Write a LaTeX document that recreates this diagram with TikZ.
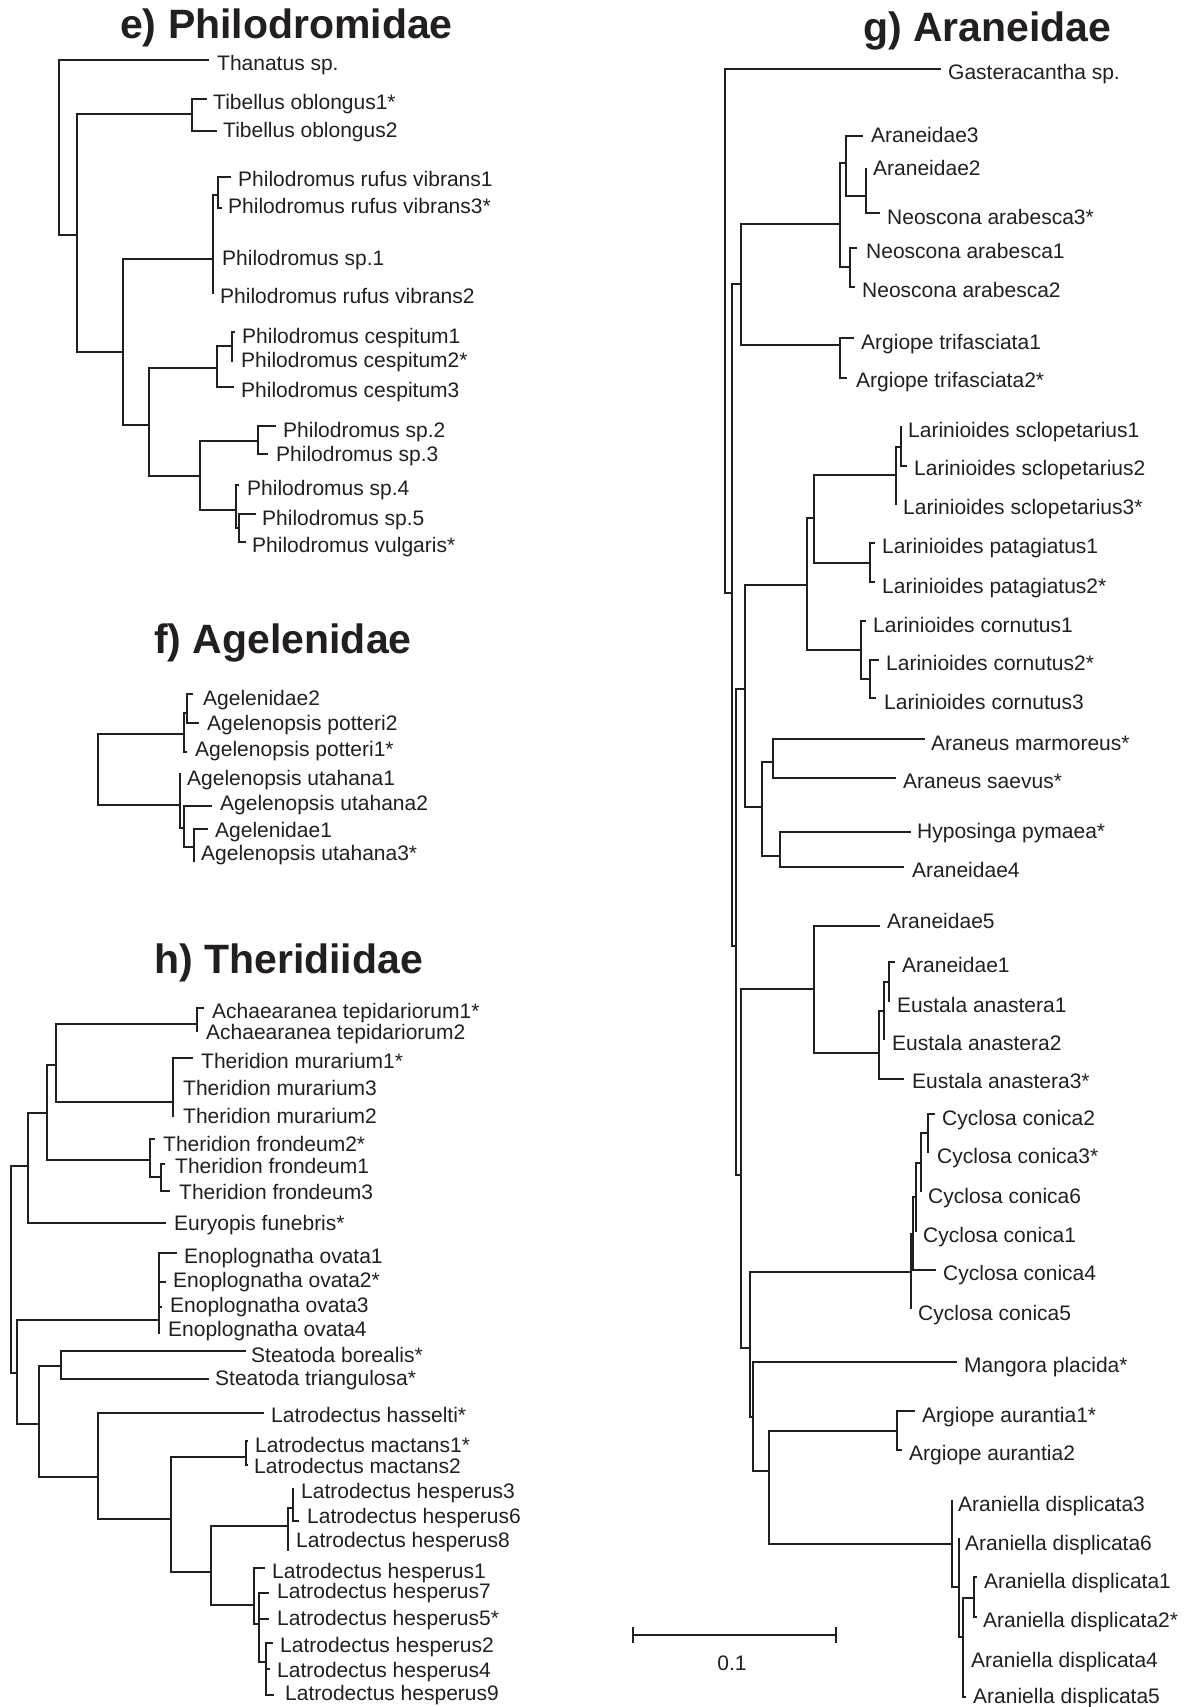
\documentclass[tikz,border=0pt]{standalone}
\usepackage{fontspec}
\setmainfont{Liberation Sans}
\newfontfamily\lblfont{Liberation Sans}
\definecolor{ink}{RGB}{35,31,32}
\tikzset{
 branch/.style={draw=ink, line width=1.8pt, line join=miter},
 lab/.style={anchor=base west, inner sep=0pt, text=ink, font=\lblfont\fontsize{21}{25}\selectfont},
 ttl/.style={anchor=base west, inner sep=0pt, text=ink, font=\lblfont\bfseries\fontsize{41}{49}\selectfont},
}
\newcommand{\Tleaf}[6]{\coordinate (#1) at (#2,#3); \node[lab] (#1l) at (#4,#5) {#6};}
\newcommand{\Tin}[3]{\coordinate (#1) at (#2,#3);}
\newcommand{\Tkids}[2]{\foreach \kid in {#2} {\draw[branch] (#1) |- (\kid);}}
\begin{document}
\begin{tikzpicture}[x=1pt,y=-1pt]
\useasboundingbox (0,0) rectangle (1187,1707);
\fill[white] (0,0) rectangle (1187,1707);
% titles
\node[ttl] (te) at (120,39) {e) Philodromidae};
\node[ttl] (tf) at (154,653) {f) Agelenidae};
\node[ttl] (th) at (154,973) {h) Theridiidae};
\node[ttl] (tg) at (863,42) {g) Araneidae};
% ===== e) Philodromidae
\Tin{e0}{59}{147}
\Tleaf{than}{209}{60}{217}{71}{Thanatus sp.}
\Tin{e1}{77}{235}
\Tin{e2}{192}{114}
\Tleaf{tib1}{207}{99}{213}{110}{Tibellus oblongus1*}
\Tleaf{tib2}{217}{131}{223}{138}{Tibellus oblongus2}
\Tin{e3}{123}{352}
\Tin{e4}{213}{259}
\Tin{e6}{218}{195}
\Tleaf{rv1}{231}{177}{238}{187}{Philodromus rufus vibrans1}
\Tleaf{rv3}{222}{208}{228}{213}{Philodromus rufus vibrans3*}
\Tleaf{psp1}{213}{259}{222}{265}{Philodromus sp.1}
\Tleaf{rv2}{213}{294}{220}{303}{Philodromus rufus vibrans2}
\Tin{e5}{149}{425}
\Tin{e7}{217}{368}
\Tin{e9}{232}{346}
\Tleaf{ces1}{235}{332}{242}{343}{Philodromus cespitum1}
\Tleaf{ces2}{232}{362}{241}{367}{Philodromus cespitum2*}
\Tleaf{ces3}{234}{387}{241}{397}{Philodromus cespitum3}
\Tin{e8}{200}{476}
\Tin{e10}{258}{441}
\Tleaf{psp2}{276}{426}{283}{437}{Philodromus sp.2}
\Tleaf{psp3}{268}{454}{276}{461}{Philodromus sp.3}
\Tin{e11}{236}{510}
\Tleaf{psp4}{239}{485}{247}{495}{Philodromus sp.4}
\Tin{e12}{239}{528}
\Tleaf{psp5}{256}{514}{262}{525}{Philodromus sp.5}
\Tleaf{pvul}{246}{542}{252}{552}{Philodromus vulgaris*}
\Tkids{e0}{than,e1}
\Tkids{e1}{e2,e3}
\Tkids{e2}{tib1,tib2}
\Tkids{e3}{e4,e5}
\Tkids{e4}{e6,psp1,rv2}
\Tkids{e6}{rv1,rv3}
\Tkids{e5}{e7,e8}
\Tkids{e7}{e9,ces3}
\Tkids{e9}{ces1,ces2}
\Tkids{e8}{e10,e11}
\Tkids{e10}{psp2,psp3}
\Tkids{e11}{psp4,e12}
\Tkids{e12}{psp5,pvul}
% ===== f) Agelenidae
\Tin{f0}{98}{770}
\Tin{f1}{184}{734}
\Tin{f3}{187}{713}
\Tleaf{ag2}{193}{694}{203}{705}{Agelenidae2}
\Tleaf{pot2}{199}{723}{207}{730}{Agelenopsis potteri2}
\Tleaf{pot1}{187}{752}{195}{756}{Agelenopsis potteri1*}
\Tin{f2}{180}{805}
\Tleaf{uta1}{180}{773}{187}{785}{Agelenopsis utahana1}
\Tin{f4}{184}{828}
\Tleaf{uta2}{212}{806}{220}{810}{Agelenopsis utahana2}
\Tin{f5}{194}{847}
\Tleaf{ag1}{208}{829}{215}{837}{Agelenidae1}
\Tleaf{uta3}{194}{862}{201}{860}{Agelenopsis utahana3*}
\Tkids{f0}{f1,f2}
\Tkids{f1}{f3,pot1}
\Tkids{f3}{ag2,pot2}
\Tkids{f2}{uta1,f4}
\Tkids{f4}{uta2,f5}
\Tkids{f5}{ag1,uta3}
% ===== h) Theridiidae
\Tin{h0}{11}{1270}
\Tin{h1}{28}{1166}
\Tin{h3}{47}{1113}
\Tin{h4}{56}{1065}
\Tin{h6}{197}{1024}
\Tleaf{ach1}{204}{1008}{212}{1018}{Achaearanea tepidariorum1*}
\Tleaf{ach2}{197}{1032}{206}{1039}{Achaearanea tepidariorum2}
\Tin{h7}{173}{1102}
\Tleaf{mur1}{193}{1058}{201}{1068}{Theridion murarium1*}
\Tleaf{mur3}{173}{1087}{183}{1095}{Theridion murarium3}
\Tleaf{mur2}{173}{1117}{183}{1123}{Theridion murarium2}
\Tin{h5}{150}{1160}
\Tleaf{fr2}{155}{1139}{163}{1151}{Theridion frondeum2*}
\Tin{h8}{161}{1177}
\Tleaf{fr1}{165}{1164}{175}{1173}{Theridion frondeum1}
\Tleaf{fr3}{170}{1191}{179}{1199}{Theridion frondeum3}
\Tleaf{eury}{166}{1223}{174}{1230}{Euryopis funebris*}
\Tin{h2}{17}{1373}
\Tin{h9}{159}{1320}
\Tleaf{eo1}{177}{1253}{184}{1263}{Enoplognatha ovata1}
\Tleaf{eo2}{166}{1282}{173}{1287}{Enoplognatha ovata2*}
\Tleaf{eo3}{162}{1307}{170}{1312}{Enoplognatha ovata3}
\Tleaf{eo4}{159}{1334}{168}{1336}{Enoplognatha ovata4}
\Tin{h10}{39}{1424}
\Tin{h11}{61}{1366}
\Tleaf{bor}{246}{1351}{251}{1362}{Steatoda borealis*}
\Tleaf{tri}{209}{1379}{215}{1385}{Steatoda triangulosa*}
\Tin{h12}{98}{1477}
\Tleaf{hass}{264}{1413}{271}{1422}{Latrodectus hasselti*}
\Tin{h13}{171}{1519}
\Tin{h14}{246}{1457}
\Tleaf{mac1}{248}{1441}{255}{1452}{Latrodectus mactans1*}
\Tleaf{mac2}{248}{1465}{254}{1473}{Latrodectus mactans2}
\Tin{h15}{211}{1572}
\Tin{h16}{288}{1526}
\Tin{h18}{293}{1508}
\Tleaf{hes3}{293}{1488}{301}{1498}{Latrodectus hesperus3}
\Tleaf{hes6}{299}{1521}{307}{1523}{Latrodectus hesperus6}
\Tleaf{hes8}{288}{1551}{296}{1547}{Latrodectus hesperus8}
\Tin{h17}{254}{1605}
\Tleaf{hes1}{265}{1568}{272}{1578}{Latrodectus hesperus1}
\Tin{h19}{259}{1624}
\Tleaf{hes7}{269}{1593}{277}{1598}{Latrodectus hesperus7}
\Tleaf{hes5}{269}{1619}{277}{1625}{Latrodectus hesperus5*}
\Tin{h20}{266}{1662}
\Tleaf{hes2}{273}{1643}{280}{1652}{Latrodectus hesperus2}
\Tleaf{hes4}{270}{1669}{277}{1677}{Latrodectus hesperus4}
\Tleaf{hes9}{274}{1695}{285}{1700}{Latrodectus hesperus9}
\Tkids{h0}{h1,h2}
\Tkids{h1}{h3,eury}
\Tkids{h3}{h4,h5}
\Tkids{h4}{h6,h7}
\Tkids{h6}{ach1,ach2}
\Tkids{h7}{mur1,mur3,mur2}
\Tkids{h5}{fr2,h8}
\Tkids{h8}{fr1,fr3}
\Tkids{h2}{h9,h10}
\Tkids{h9}{eo1,eo2,eo3,eo4}
\Tkids{h10}{h11,h12}
\Tkids{h11}{bor,tri}
\Tkids{h12}{hass,h13}
\Tkids{h13}{h14,h15}
\Tkids{h14}{mac1,mac2}
\Tkids{h15}{h16,h17}
\Tkids{h16}{h18,hes8}
\Tkids{h18}{hes3,hes6}
\Tkids{h17}{hes1,h19}
\Tkids{h19}{hes7,hes5,h20}
\Tkids{h20}{hes2,hes4,hes9}
% ===== g) Araneidae
\Tin{g0}{725}{330}
\Tleaf{gast}{941}{69}{948}{80}{Gasteracantha sp.}
\Tin{R1}{732}{593}
\Tin{N1}{741}{284}
\Tin{N2}{840}{224}
\Tin{N3}{846}{163}
\Tleaf{ar3}{863}{136}{871}{143}{Araneidae3}
\Tin{N5}{866}{196}
\Tleaf{ar2}{866}{168}{873}{176}{Araneidae2}
\Tleaf{neo3}{880}{213}{887}{224}{Neoscona arabesca3*}
\Tin{N4}{850}{267}
\Tleaf{neo1}{857}{248}{866}{258}{Neoscona arabesca1}
\Tleaf{neo2}{855}{287}{862}{297}{Neoscona arabesca2}
\Tin{At}{840}{345}
\Tleaf{at1}{854}{338}{861}{349}{Argiope trifasciata1}
\Tleaf{at2}{847}{378}{856}{387}{Argiope trifasciata2*}
\Tin{R2}{736}{946}
\Tin{L0}{745}{689}
\Tin{L1}{807}{585}
\Tin{L2}{814}{518}
\Tin{Ls}{896}{475}
\Tin{Ls12}{901}{447}
\Tleaf{scl1}{901}{426}{908}{437}{Larinioides sclopetarius1}
\Tleaf{scl2}{907}{466}{914}{475}{Larinioides sclopetarius2}
\Tleaf{scl3}{896}{505}{903}{514}{Larinioides sclopetarius3*}
\Tin{Lp}{870}{563}
\Tleaf{pat1}{875}{543}{882}{553}{Larinioides patagiatus1}
\Tleaf{pat2}{875}{582}{882}{593}{Larinioides patagiatus2*}
\Tin{Lc}{861}{650}
\Tleaf{cor1}{866}{621}{873}{632}{Larinioides cornutus1}
\Tin{Lc23}{870}{679}
\Tleaf{cor2}{879}{660}{886}{670}{Larinioides cornutus2*}
\Tleaf{cor3}{876}{698}{884}{709}{Larinioides cornutus3}
\Tin{A1}{762}{807}
\Tin{A2}{773}{762}
\Tleaf{marm}{925}{739}{931}{750}{Araneus marmoreus*}
\Tleaf{saev}{896}{778}{903}{788}{Araneus saevus*}
\Tin{A3}{780}{856}
\Tleaf{hyp}{911}{832}{917}{838}{Hyposinga pymaea*}
\Tleaf{ar4}{904}{867}{912}{877}{Araneidae4}
\Tin{R3}{741}{1175}
\Tin{E0}{814}{989}
\Tleaf{ar5}{880}{926}{887}{928}{Araneidae5}
\Tin{E1}{879}{1053}
\Tin{E2}{884}{1011}
\Tin{E3}{889}{982}
\Tleaf{ar1}{895}{962}{902}{972}{Araneidae1}
\Tleaf{ea1}{889}{1002}{897}{1012}{Eustala anastera1}
\Tleaf{ea2}{884}{1040}{892}{1050}{Eustala anastera2}
\Tleaf{ea3}{904}{1079}{912}{1088}{Eustala anastera3*}
\Tin{R4}{750}{1348}
\Tin{C0}{911}{1272}
\Tin{C1}{913}{1234}
\Tin{C2}{916}{1197}
\Tin{C3}{921}{1163}
\Tin{C4}{928}{1133}
\Tleaf{cc2}{935}{1114}{942}{1125}{Cyclosa conica2}
\Tleaf{cc3}{928}{1153}{937}{1163}{Cyclosa conica3*}
\Tleaf{cc6}{921}{1192}{928}{1203}{Cyclosa conica6}
\Tleaf{cc1}{916}{1232}{923}{1242}{Cyclosa conica1}
\Tleaf{cc4}{936}{1270}{943}{1280}{Cyclosa conica4}
\Tleaf{cc5}{911}{1309}{918}{1320}{Cyclosa conica5}
\Tin{R5}{753}{1417}
\Tleaf{mang}{957}{1362}{964}{1372}{Mangora placida*}
\Tin{R6}{769}{1471}
\Tin{Aa}{897}{1431}
\Tleaf{aa1}{915}{1411}{922}{1422}{Argiope aurantia1*}
\Tleaf{aa2}{902}{1450}{909}{1460}{Argiope aurantia2}
\Tin{Ad0}{952}{1544}
\Tleaf{ad3}{952}{1500}{958}{1511}{Araniella displicata3}
\Tin{Ad1}{959}{1587}
\Tleaf{ad6}{959}{1538}{965}{1550}{Araniella displicata6}
\Tin{Ad2}{963}{1637}
\Tin{Ad12}{974}{1598}
\Tleaf{ad1}{977}{1577}{984}{1588}{Araniella displicata1}
\Tleaf{ad2}{977}{1617}{983}{1627}{Araniella displicata2*}
\Tleaf{ad4}{963}{1655}{971}{1667}{Araniella displicata4}
\Tleaf{ad5}{966}{1697}{973}{1703}{Araniella displicata5}
\Tkids{g0}{gast,R1}
\Tkids{R1}{N1,R2}
\Tkids{N1}{N2,At}
\Tkids{N2}{N3,N4}
\Tkids{N3}{ar3,N5}
\Tkids{N5}{ar2,neo3}
\Tkids{N4}{neo1,neo2}
\Tkids{At}{at1,at2}
\Tkids{R2}{L0,R3}
\Tkids{L0}{L1,A1}
\Tkids{L1}{L2,Lc}
\Tkids{L2}{Ls,Lp}
\Tkids{Ls}{Ls12,scl3}
\Tkids{Ls12}{scl1,scl2}
\Tkids{Lp}{pat1,pat2}
\Tkids{Lc}{cor1,Lc23}
\Tkids{Lc23}{cor2,cor3}
\Tkids{A1}{A2,A3}
\Tkids{A2}{marm,saev}
\Tkids{A3}{hyp,ar4}
\Tkids{R3}{E0,R4}
\Tkids{E0}{ar5,E1}
\Tkids{E1}{E2,ea3}
\Tkids{E2}{E3,ea2}
\Tkids{E3}{ar1,ea1}
\Tkids{R4}{C0,R5}
\Tkids{C0}{C1,cc5}
\Tkids{C1}{C2,cc4}
\Tkids{C2}{C3,cc1}
\Tkids{C3}{C4,cc6}
\Tkids{C4}{cc2,cc3}
\Tkids{R5}{mang,R6}
\Tkids{R6}{Aa,Ad0}
\Tkids{Aa}{aa1,aa2}
\Tkids{Ad0}{ad3,Ad1}
\Tkids{Ad1}{ad6,Ad2}
\Tkids{Ad2}{Ad12,ad4,ad5}
\Tkids{Ad12}{ad1,ad2}
% scale bar
\coordinate (sbL) at (633,1635);
\coordinate (sbR) at (836,1635);
\draw[branch] (sbL) -- (sbR);
\draw[branch] ([yshift=8pt]sbL) -- ([yshift=-8pt]sbL);
\draw[branch] ([yshift=8pt]sbR) -- ([yshift=-8pt]sbR);
\node[lab, anchor=base] (sbt) at (732,1670) {0.1};
\end{tikzpicture}
\end{document}
